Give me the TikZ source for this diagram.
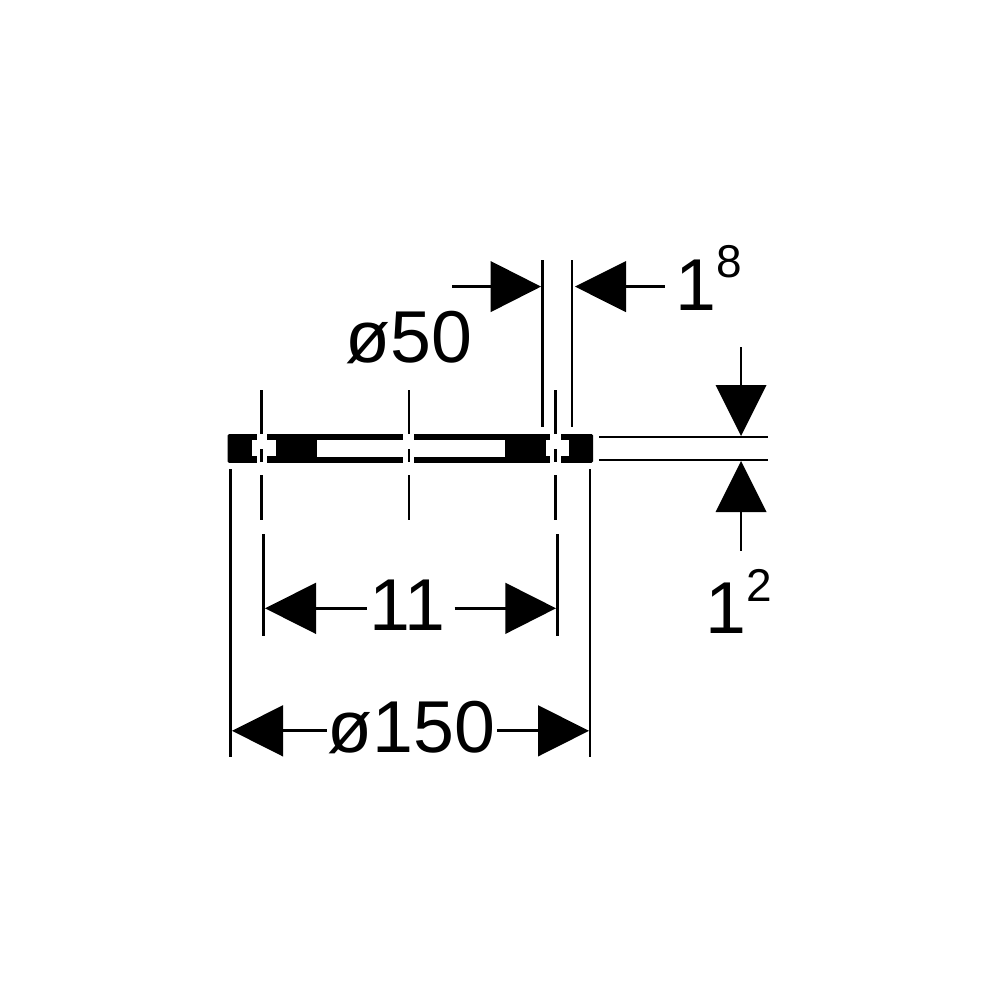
\documentclass[tikz,border=0pt]{standalone}
\usepackage{fontspec}
\setmainfont{Liberation Sans}
\tikzset{
  dimline/.style={line width=2.8pt,black},
  tip/.style={fill=black,draw=none},
  gap/.style={fill=white,draw=none},
  dimtext/.style={inner sep=0pt,anchor=base west,font=\fontsize{73.5}{73.5}\selectfont},
  suptext/.style={inner sep=0pt,anchor=base west,font=\fontsize{46}{46}\selectfont}
}
\begin{document}
\begin{tikzpicture}[x=1pt,y=-1pt]
\useasboundingbox (0,0) rectangle (1000,1000);
% ring section
\fill[rounded corners=1.5pt] (227.5,434) rectangle (593,462.8);
\fill[gap] (316.7,440.3) rectangle (504.7,456.8);
\foreach \c/\l/\r in {262/256.7/267.3,409/403.3/414,555.7/550/561}{
  \fill[gap] (\l,433) rectangle (\r,464);
}
\fill[gap] (252,440.3) rectangle (275.7,456.3);
\fill[gap] (546,440.3) rectangle (569,456.3);
% centre lines
\foreach \c in {261.8,409,555.7}{
  \draw[dimline] (\c,390) -- (\c,434);
  \draw[dimline] (\c,449) -- (\c,462);
  \draw[dimline] (\c,475) -- (\c,519.5);
}
% extension lines
\draw[dimline] (542.7,260) -- (542.7,427);
\draw[dimline] (572,260) -- (572,427);
\draw[dimline] (230.8,469) -- (230.8,757);
\draw[dimline] (590,469) -- (590,757);
\draw[dimline] (599,437) -- (768,437);
\draw[dimline] (599,460) -- (768,460);
\draw[dimline] (263.5,534) -- (263.5,635.5);
\draw[dimline] (557.2,534) -- (557.2,635.5);
% thickness 1^8
\draw[dimline] (452,286.6) -- (492,286.6);
\fill[tip] (541,286.6) -- (490.5,261) -- (490.5,312.2) -- cycle;
\draw[dimline] (624,286.6) -- (665,286.6);
\fill[tip] (575,286.6) -- (626,261) -- (626,312.2) -- cycle;
% thickness 1^2
\draw[dimline] (741,347) -- (741,387);
\fill[tip] (741,436) -- (715.5,385) -- (766.5,385) -- cycle;
\draw[dimline] (741,510) -- (741,551);
\fill[tip] (741,461) -- (715.5,512) -- (766.5,512) -- cycle;
% 11
\draw[dimline] (314,608.3) -- (366.5,608.3);
\fill[tip] (265,608.3) -- (316,582.7) -- (316,634) -- cycle;
\draw[dimline] (454.5,608.3) -- (507,608.3);
\fill[tip] (556,608.3) -- (505.3,582.7) -- (505.3,634) -- cycle;
% o150
\draw[dimline] (281,730.8) -- (327,730.8);
\fill[tip] (232,730.8) -- (283,705.2) -- (283,756.5) -- cycle;
\draw[dimline] (497,730.8) -- (540,730.8);
\fill[tip] (589,730.8) -- (538,705.2) -- (538,756.5) -- cycle;
% labels
\node[dimtext] (d50) at (345.5,362.3) {ø50};
\node[dimtext] (t11) at (369,630) {11};
\node[dimtext] (d150) at (327.5,752) {ø150};
\node[dimtext] (t18) at (675,310.5) {1};
\node[suptext] (s8) at (716.5,277.3) {8};
\node[dimtext] (t12) at (705,633) {1};
\node[suptext] (s2) at (746.5,601.7) {2};
\end{tikzpicture}
\end{document}
